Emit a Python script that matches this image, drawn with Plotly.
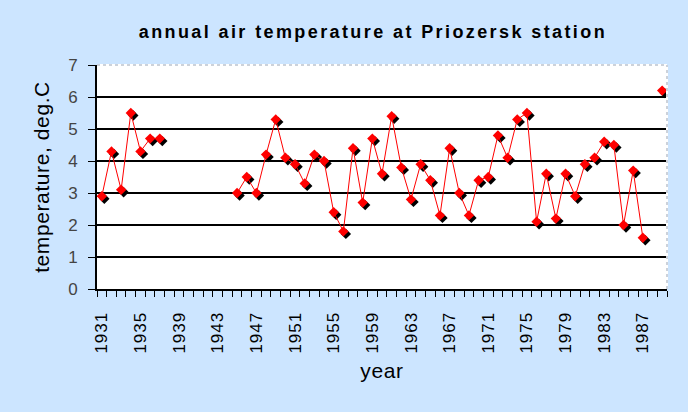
import plotly.graph_objects as go

years = list(range(1931, 1990))
temps = [2.9, 4.3, 3.1, 5.5, 4.3, 4.7, 4.7,
         None, None, None, None, None, None, None,
         3.0, 3.5, 3.0, 4.2, 5.3, 4.1, 3.9, 3.3, 4.2, 4.0,
         2.4, 1.8, 4.4, 2.7, 4.7, 3.6, 5.4, 3.8, 2.8, 3.9,
         3.4, 2.3, 4.4, 3.0, 2.3, 3.4, 3.5, 4.8, 4.1, 5.3,
         5.5, 2.1, 3.6, 2.2, 3.6, 2.9, 3.9, 4.1, 4.6, 4.5,
         2.0, 3.7, 1.6, None, 6.2]
tick_years = list(range(1931, 1990, 4))
y_ticks = [0, 1, 2, 3, 4, 5, 6, 7]

title_text = "annual air temperature at Priozersk station"
x_title = "year"
y_title = "temperature, deg.C"

BG = "#CCE5FF"
FONT = "Liberation Sans, Arial, sans-serif"

xr = [1930.5, 1989.5]
yr = [0, 7]
plot_w = 570
plot_h = 224
# shadow offset in pixels expressed through an overlaid axis
dx = 2.5 * (xr[1] - xr[0]) / plot_w
dy = 2.5 * (yr[1] - yr[0]) / plot_h

fig = go.Figure()
fig.add_trace(go.Scatter(x=[], y=[], showlegend=False))
fig.add_trace(go.Scatter(x=years, y=temps, mode="markers", xaxis="x2", yaxis="y2",
                         marker=dict(symbol="diamond", size=8, color="black"),
                         hoverinfo="skip", showlegend=False))
fig.add_trace(go.Scatter(x=years, y=temps, mode="lines+markers", connectgaps=False,
                         xaxis="x3", yaxis="y3",
                         line=dict(color="red", width=1),
                         marker=dict(symbol="diamond", size=8, color="red"),
                         showlegend=False))

fig.update_layout(
    width=688, height=412,
    paper_bgcolor=BG, plot_bgcolor="white",
    margin=dict(l=97, r=21, t=65, b=123),
    title=dict(text="<b>" + title_text + "</b>", x=0.542, xanchor="center",
               y=1 - 32 / 412, yanchor="middle",
               font=dict(family=FONT, size=18, color="black")),
    font=dict(family=FONT, color="black"),
    xaxis=dict(range=xr, tickmode="array", tickvals=tick_years,
               ticktext=[str(v) for v in tick_years], tickangle=-90,
               ticks="", ticklabelstandoff=14,
               tickfont=dict(size=17, color="black"),
               showgrid=False, zeroline=False,
               showline=True, linecolor="black", linewidth=2,
               minor=dict(tick0=1930.5, dtick=1, ticks="outside", ticklen=6,
                          tickcolor="black", tickwidth=1, showgrid=False),
               title=dict(text=x_title, font=dict(size=21), standoff=15)),
    yaxis=dict(range=yr, tickmode="array", tickvals=y_ticks,
               ticks="outside", ticklen=7, tickcolor="black", tickwidth=1,
               ticklabelstandoff=7,
               tickfont=dict(size=17, color="#444"),
               showgrid=True, gridcolor="black", gridwidth=1.5,
               zeroline=False, showline=True, linecolor="black", linewidth=2,
               title=dict(text=y_title, font=dict(size=21), standoff=13)),
    xaxis2=dict(range=[xr[0] - dx, xr[1] - dx], overlaying="x", visible=False),
    yaxis2=dict(range=[yr[0] + dy, yr[1] + dy], overlaying="y", visible=False),
    xaxis3=dict(range=xr, overlaying="x", visible=False),
    yaxis3=dict(range=yr, overlaying="y", visible=False),
)

for ln in [dict(x0=0, x1=1, y0=1, y1=1), dict(x0=1, x1=1, y0=0, y1=1)]:
    fig.add_shape(type="line", xref="x domain", yref="y domain",
                  line=dict(color="white", width=2), **ln)
    fig.add_shape(type="line", xref="x domain", yref="y domain",
                  line=dict(color="#9aa5b5", width=1, dash="dot"), **ln)

post = """
document.body.style.margin = '0';
function spaceText() {
  document.querySelectorAll('.gtitle').forEach(function (e) {
    e.style.letterSpacing = '2.4px';
  });
  document.querySelectorAll('.xtick text').forEach(function (e) {
    e.style.letterSpacing = '1px';
  });
  document.querySelectorAll('.g-xtitle text, .g-ytitle text').forEach(function (e) {
    e.style.letterSpacing = '0.6px';
  });
}
spaceText();
var gd = document.querySelector('.plotly-graph-div');
if (gd && gd.on) { gd.on('plotly_afterplot', spaceText); }
setTimeout(spaceText, 50);
"""

fig.write_html("out.html", post_script=post, config={"displayModeBar": False})
